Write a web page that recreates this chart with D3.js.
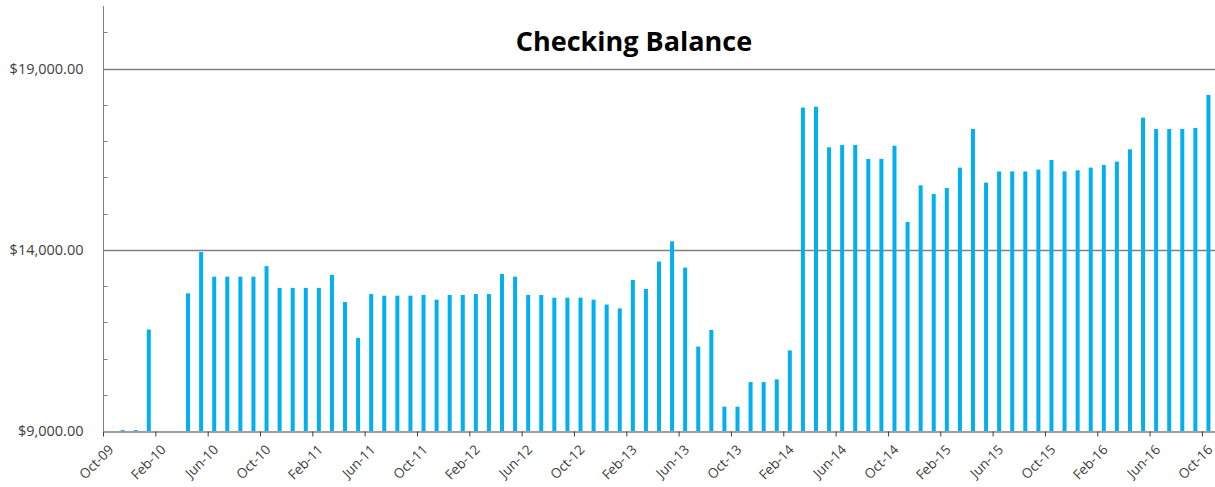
<!DOCTYPE html>
<html>
<head>
<meta charset="utf-8">
<script src="https://cdn.jsdelivr.net/npm/d3@7"></script>
<style>
  body { margin: 0; background: #fff; }
  svg { display: block; font-family: "Open Sans", sans-serif; }
  .title { font-weight: bold; font-size: 27px; fill: #000; }
  .y-label { font-size: 14.5px; fill: #404040; }
  .x-axis text { font-family: "Open Sans", sans-serif; font-size: 13.5px; fill: #404040; }
</style>
</head>
<body>
<svg id="chart"></svg>
<script>
// ------------------------------------------
// data: one slot per month, Oct-09 .. Oct-16
// ------------------------------------------
const months = [
  "Oct-09","Nov-09","Dec-09",
  "Jan-10","Feb-10","Mar-10","Apr-10","May-10","Jun-10","Jul-10","Aug-10","Sep-10","Oct-10","Nov-10","Dec-10",
  "Jan-11","Feb-11","Mar-11","Apr-11","May-11","Jun-11","Jul-11","Aug-11","Sep-11","Oct-11","Nov-11","Dec-11",
  "Jan-12","Feb-12","Mar-12","Apr-12","May-12","Jun-12","Jul-12","Aug-12","Sep-12","Oct-12","Nov-12","Dec-12",
  "Jan-13","Feb-13","Mar-13","Apr-13","May-13","Jun-13","Jul-13","Aug-13","Sep-13","Oct-13","Nov-13","Dec-13",
  "Jan-14","Feb-14","Mar-14","Apr-14","May-14","Jun-14","Jul-14","Aug-14","Sep-14","Oct-14","Nov-14","Dec-14",
  "Jan-15","Feb-15","Mar-15","Apr-15","May-15","Jun-15","Jul-15","Aug-15","Sep-15","Oct-15","Nov-15","Dec-15",
  "Jan-16","Feb-16","Mar-16","Apr-16","May-16","Jun-16","Jul-16","Aug-16","Sep-16","Oct-16"
];

const balance = [
  null, 9025, 9025,
  11800, null, null, 12800, 13940, 13260, 13260, 13260, 13260, 13550, 12950, 12950,
  12950, 12950, 13310, 12560, 11570, 12780, 12735, 12735, 12735, 12755, 12625, 12755,
  12755, 12780, 12780, 13335, 13260, 12755, 12755, 12680, 12680, 12680, 12625, 12490,
  12385, 13170, 12920, 13675, 14235, 13510, 11330, 11790, 9670, 9670, 10350, 10350,
  10425, 11225, 17925, 17950, 16830, 16895, 16895, 16510, 16510, 16875, 14770, 15780,
  15540, 15705, 16270, 17335, 15855, 16165, 16165, 16165, 16215, 16480, 16165, 16195,
  16270, 16340, 16435, 16775, 17650, 17335, 17335, 17335, 17365, 18275
];

const yTicks = [9000, 14000, 19000];
const yMinorTicks = [10000, 11000, 12000, 13000, 15000, 16000, 17000, 18000, 20000];
const yMin = 9000, yMax = 20730;

// ------------------------------------------
// layout
// ------------------------------------------
const width = 1215, height = 487;
const plotLeft = 103, plotRight = 1215, plotTop = 6, plotBottom = 431;

const svg = d3.select("#chart").attr("width", width).attr("height", height);

// month index -> x, each month fills one slot, ticks at slot starts
const x = d3.scaleLinear().domain([0, months.length]).range([plotLeft, plotRight]);
const y = d3.scaleLinear().domain([yMin, yMax]).range([plotBottom, plotTop]);

const barW = 4;

// gridlines
svg.append("g")
  .selectAll("line")
  .data(yTicks.slice(1))
  .enter().append("line")
  .attr("x1", plotLeft).attr("x2", plotRight)
  .attr("y1", d => Math.round(y(d)) + 0.5)
  .attr("y2", d => Math.round(y(d)) + 0.5)
  .attr("stroke", "#7f7f7f")
  .attr("stroke-width", 1.3);

// bars
const data = months.map((m, i) => ({ i: i, m: m, v: balance[i] })).filter(d => d.v != null);

svg.append("g")
  .selectAll("rect")
  .data(data)
  .enter().append("rect")
  .attr("x", d => x(d.i + 0.5) - barW / 2)
  .attr("width", barW)
  .attr("y", d => y(d.v))
  .attr("height", d => Math.max(1, y(yMin) - y(d.v)))
  .attr("fill", "#00b0f0");

// y axis: minor ticks inside, labels on major values
const yAxis = svg.append("g").attr("transform", `translate(${plotLeft + 0.5},0)`);
yAxis.append("line")
  .attr("y1", plotTop).attr("y2", plotBottom)
  .attr("stroke", "#7f7f7f");
yAxis.selectAll(".minor")
  .data(yMinorTicks)
  .enter().append("line")
  .attr("class", "minor")
  .attr("x1", 0).attr("x2", 4)
  .attr("y1", d => Math.round(y(d)) + 0.5)
  .attr("y2", d => Math.round(y(d)) + 0.5)
  .attr("stroke", "#7f7f7f");
yAxis.selectAll(".y-label")
  .data(yTicks)
  .enter().append("text")
  .attr("class", "y-label")
  .attr("x", -20)
  .attr("y", d => y(d))
  .attr("dy", "0.35em")
  .attr("text-anchor", "end")
  .text(d => "$" + d3.format(",.2f")(d));

// x axis, tick every 4 months
const xAxis = d3.axisBottom(x)
  .tickValues(d3.range(0, months.length, 4))
  .tickFormat(i => months[i])
  .tickSize(5)
  .tickSizeOuter(0);

const gx = svg.append("g")
  .attr("class", "x-axis")
  .attr("transform", `translate(0,${plotBottom + 0.5})`)
  .call(xAxis);

gx.select(".domain").attr("stroke", "#7f7f7f").attr("stroke-width", 1.3);
gx.selectAll(".tick line").attr("stroke", "#404040");
gx.selectAll(".tick text")
  .attr("text-anchor", "end")
  .attr("dx", 0)
  .attr("dy", 0)
  .attr("y", 0)
  .attr("transform", "translate(11,19) rotate(-45)");

// title
svg.append("text")
  .attr("class", "title")
  .attr("x", 634)
  .attr("y", 51)
  .attr("text-anchor", "middle")
  .text("Checking Balance");
</script>
</body>
</html>
